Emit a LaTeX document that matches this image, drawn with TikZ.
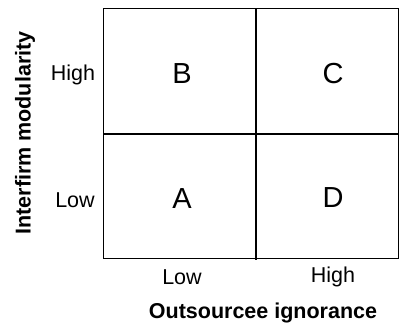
\documentclass[tikz,border=0pt]{standalone}
\usepackage{fontspec}
\setmainfont{Liberation Sans}
\begin{document}
\begin{tikzpicture}[x=1bp,y=-1bp,
  cell/.style={font=\fontsize{29bp}{34bp}\selectfont},
  tick/.style={font=\fontsize{21.5bp}{25bp}\selectfont},
  axis/.style={font=\fontsize{21.5bp}{25bp}\selectfont\bfseries},
  outer/.style={draw=black,line width=1bp},
  divider/.style={draw=black,line width=2bp}]
\useasboundingbox (0,0) rectangle (399,323);
\coordinate (tl) at (103,8);
\coordinate (br) at (398,258);
\draw[outer] (tl) rectangle (br);
\coordinate (vt) at (256,8);
\coordinate (vb) at (256,260);
\coordinate (hl) at (103,134);
\coordinate (hr) at (398,134);
\draw[divider] (vt) -- (vb);
\draw[divider] (hl) -- (hr);
\node[cell] (B) at (182,74) {B};
\node[cell] (C) at (333,74) {C};
\node[cell] (A) at (182,199) {A};
\node[cell] (D) at (333,198) {D};
\node[tick] (yh) at (73,75) {High};
\node[tick] (yl) at (75,200) {Low};
\node[tick] (xl) at (182,277) {Low};
\node[tick] (xh) at (333,277) {High};
\node[axis] (xa) at (263,313) {Outsourcee ignorance};
\node[axis,rotate=90] (ya) at (25,133) {Interfirm modularity};
\end{tikzpicture}
\end{document}
